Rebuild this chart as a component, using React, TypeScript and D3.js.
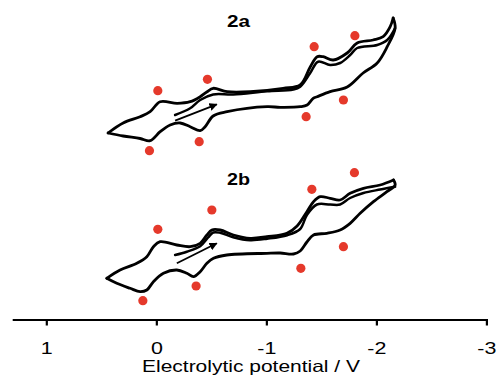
import React from "react";
import * as d3 from "d3";

const W = 499;
const H = 381;

// x axis ticks (V)
const potentialTicks = [1, 0, -1, -2, -3];
const axisTitle = "Electrolytic potential / V";
const panelLabels = ["2a", "2b"];

// ---- 2a : [potential V, current a.u.] ----
const cv2aForward: [number, number][] = [
  [0.443, 17], [0.306, 27], [0.152, 33.3], [0.061, 38.3], [-0.03, 48.3], [-0.185, 46.7],
  [-0.303, 48.3], [-0.394, 53.3], [-0.457, 58.3], [-0.512, 61.7], [-0.639, 58.3],
  [-0.848, 58.3], [-1.148, 61.7], [-1.303, 65], [-1.394, 83], [-1.457, 93.3],
  [-1.512, 93.3], [-1.603, 90], [-1.73, 97], [-1.821, 107], [-1.966, 110],
  [-2.057, 113.3], [-2.121, 123.3], [-2.148, 132],
];
const cv2aReverse: [number, number][] = [
  [-2.148, 132], [-2.166, 122], [-2.094, 103.3], [-2.003, 87], [-1.875, 77], [-1.73, 63],
  [-1.575, 58.3], [-1.457, 53.3], [-1.421, 51.7], [-1.366, 45], [-1.303, 43.3],
  [-1.121, 42.7], [-1.003, 43.3], [-0.639, 38.3], [-0.512, 34], [-0.439, 23.3],
  [-0.394, 19.3], [-0.303, 23.3], [-0.212, 27], [-0.121, 25], [-0.03, 18.3],
  [0.061, 9.3], [0.152, 11.5], [0.306, 14], [0.443, 17],
];
const cv2aSecond: [number, number][] = [
  [-0.166, 35], [-0.303, 41.7], [-0.394, 50], [-0.512, 55.5], [-0.694, 55.5], [-1.003, 58.8],
  [-1.239, 60.5], [-1.303, 63.3], [-1.394, 77], [-1.466, 88.3], [-1.575, 85],
  [-1.666, 87], [-1.757, 95], [-1.821, 102], [-2.003, 105], [-2.094, 110], [-2.166, 122],
];
const arrow2a: [number, number][] = [[-0.166, 29.3], [-0.545, 45.7]];
const peaks2a: [number, number][] = [
  [-0.009, 59.3], [-0.46, 70.7], [-1.43, 103.3], [-1.8, 114.3],
  [0.067, -0.7], [-0.385, 8.3], [-1.357, 33.3], [-1.696, 50],
];

// ---- 2b : [potential V, current a.u.] ----
const cv2bForward: [number, number][] = [
  [0.455, 21.7], [0.334, 30], [0.182, 36.7], [0.091, 43.3], [0.031, 53.3], [-0.03, 58.3],
  [-0.182, 55], [-0.303, 53.3], [-0.394, 56.7], [-0.455, 65], [-0.5, 70], [-0.575, 70],
  [-0.696, 65], [-0.848, 61.7], [-1.0, 63.3], [-1.182, 66.7], [-1.275, 74],
  [-1.364, 88.3], [-1.424, 98.3], [-1.485, 103.3], [-1.575, 101.7], [-1.666, 100],
  [-1.757, 106.7], [-1.878, 111.7], [-2.03, 115], [-2.151, 120],
];
const cv2bReverse: [number, number][] = [
  [-2.151, 120], [-2.166, 115], [-2.091, 108.3], [-1.969, 98.3], [-1.848, 86.7],
  [-1.757, 76.7], [-1.666, 70], [-1.545, 66.7], [-1.424, 65], [-1.364, 58],
  [-1.303, 49], [-1.242, 46], [-1.121, 47], [-1.0, 46.7], [-0.636, 45], [-0.515, 41.7],
  [-0.455, 36.7], [-0.394, 28.3], [-0.333, 23.3], [-0.273, 26.7], [-0.182, 30],
  [-0.06, 26.7], [0.031, 18.3], [0.091, 10], [0.152, 8.3], [0.243, 11.7],
  [0.364, 16.7], [0.455, 21.7],
];
const cv2bSecond: [number, number][] = [
  [-0.166, 45], [-0.273, 48.3], [-0.394, 53.8], [-0.466, 62.5], [-0.512, 67.5], [-0.575, 67.3],
  [-0.694, 62.8], [-0.848, 59.8], [-1.003, 61.3], [-1.185, 64.8], [-1.303, 71],
  [-1.364, 85], [-1.455, 95.5], [-1.575, 95.5], [-1.666, 95.5], [-1.757, 102],
  [-1.878, 107], [-2.03, 110.5], [-2.166, 113.3],
];
const arrow2b: [number, number][] = [[-0.182, 36.7], [-0.545, 56.7]];
const peaks2b: [number, number][] = [
  [-0.009, 70.7], [-0.5, 90], [-1.409, 110.7], [-1.796, 127.3],
  [0.127, -0.7], [-0.357, 14], [-1.309, 31.7], [-1.696, 53.3],
];

const FONT = "'Liberation Sans', Arial, Helvetica, sans-serif";
const RED = "#e5392b";

export default function App() {
  const x = d3.scaleLinear().domain([1.31, -3.01]).range([12.7, 488]);
  const yA = d3.scaleLinear().domain([0, 150]).range([150, 0]);
  const yB = d3.scaleLinear().domain([0, 150]).range([300, 150]);
  const axisY = 320;

  const panels = [
    { y: yA, fwd: cv2aForward, rev: cv2aReverse, sec: cv2aSecond, arrow: arrow2a, peaks: peaks2a, label: panelLabels[0], labelY: 26.7 },
    { y: yB, fwd: cv2bForward, rev: cv2bReverse, sec: cv2bSecond, arrow: arrow2b, peaks: peaks2b, label: panelLabels[1], labelY: 185 },
  ];

  return (
    <svg
      width={W}
      height={H}
      style={{ position: "absolute", left: 0, top: 0, background: "#fff" }}
      fontFamily={FONT}
    >
      <defs>
        <marker id="ah" viewBox="0 0 10 10" refX="9" refY="5" markerWidth="4.5" markerHeight="4.5" orient="auto" markerUnits="strokeWidth">
          <path d="M0,0 L10,5 L0,10 Z" fill="#000" />
        </marker>
      </defs>
      {panels.map((p, k) => {
        const line = d3
          .line<[number, number]>()
          .x((d) => x(d[0]))
          .y((d) => p.y(d[1]))
          .curve(d3.curveCatmullRom.alpha(0.5));
        const straight = d3
          .line<[number, number]>()
          .x((d) => x(d[0]))
          .y((d) => p.y(d[1]));
        return (
          <g key={k}>
            <path d={line(p.sec) || ""} fill="none" stroke="#000" strokeWidth={2.5} strokeLinejoin="round" strokeLinecap="round" />
            <path d={line(p.fwd) || ""} fill="none" stroke="#000" strokeWidth={2.8} strokeLinejoin="round" strokeLinecap="round" />
            <path d={line(p.rev) || ""} fill="none" stroke="#000" strokeWidth={2.8} strokeLinejoin="round" strokeLinecap="round" />
            <path d={straight(p.arrow) || ""} fill="none" stroke="#000" strokeWidth={1.8} markerEnd="url(#ah)" />
            {p.peaks.map((d, j) => (
              <circle key={j} cx={x(d[0])} cy={p.y(d[1])} r={4.6} fill={RED} />
            ))}
            <text
              x={238.5}
              y={p.labelY}
              textAnchor="middle"
              fontWeight="bold"
              fontSize={16}
              textLength={23}
              lengthAdjust="spacingAndGlyphs"
            >
              {p.label}
            </text>
          </g>
        );
      })}
      {/* x axis */}
      <line x1={x.range()[0]} x2={x.range()[1]} y1={axisY} y2={axisY} stroke="#000" strokeWidth={2.2} />
      {potentialTicks.map((t) => (
        <g key={t} transform={`translate(${x(t)},0)`}>
          <line y1={axisY} y2={axisY + 5.5} stroke="#000" strokeWidth={2.2} />
          <g transform={`translate(0,353.5) scale(1.3,1)`}>
            <text textAnchor="middle" fontSize={16.5}>
              {String(t)}
            </text>
          </g>
        </g>
      ))}
      <text
        x={251}
        y={372}
        textAnchor="middle"
        fontSize={16.5}
        textLength={218}
        lengthAdjust="spacingAndGlyphs"
      >
        {axisTitle}
      </text>
    </svg>
  );
}
